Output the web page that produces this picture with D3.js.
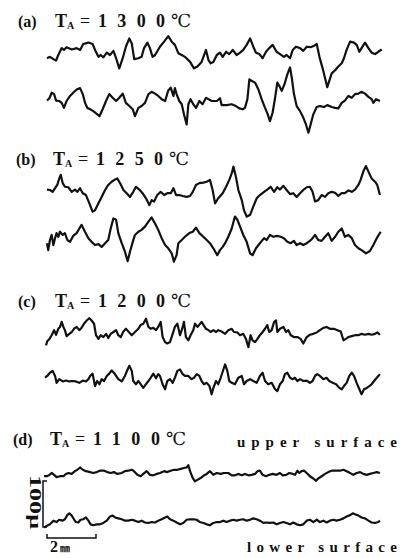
<!DOCTYPE html>
<html>
<head>
<meta charset="utf-8">
<script src="https://cdnjs.cloudflare.com/ajax/libs/d3/7.8.5/d3.min.js"></script>
<style>
  body { margin: 0; background: #fff; }
  svg { display: block; }
  .trace { fill: none; stroke: #111; stroke-width: 2.2; stroke-linejoin: round; }
  text { font-family: "Liberation Serif", "DejaVu Serif", serif; fill: #111; }
</style>
</head>
<body>
<div id="chart"></div>
<script>
// surface profiles
// each point is [distance along the sheet (mm), height (um)]
var a_upper = [[0.00,-7],[0.12,-4],[0.26,-9],[0.37,-12],[0.46,0],[0.60,15],[0.69,11],[0.80,17],[1.01,12],[1.21,15],
  [1.35,11],[1.48,24],[1.69,27],[1.86,24],[1.96,11],[2.10,-4],[2.19,0],[2.30,-5],[2.44,5],[2.57,0],[2.71,9],[2.82,-7],
  [2.95,-29],[3.09,-7],[3.22,18],[3.36,36],[3.46,25],[3.56,-9],[3.73,-7],[3.86,-4],[3.96,15],[4.10,27],[4.20,15],
  [4.31,-4],[4.41,0],[4.61,18],[4.78,29],[4.95,41],[5.09,29],[5.22,22],[5.36,4],[5.50,0],[5.63,-4],[5.84,-15],
  [6.00,-29],[6.14,-25],[6.31,-15],[6.49,11],[6.59,-11],[6.68,-18],[6.79,-15],[6.93,0],[7.06,5],[7.17,-4],[7.31,7],
  [7.44,2],[7.58,11],[7.74,0],[7.88,5],[8.01,11],[8.15,22],[8.29,36],[8.42,18],[8.53,5],[8.67,2],[8.80,-7],[8.94,7],
  [9.07,15],[9.21,22],[9.37,7],[9.51,2],[9.67,-4],[9.78,0],[9.92,-7],[10.03,11],[10.16,18],[10.33,15],[10.46,9],
  [10.60,18],[10.76,17],[10.90,20],[11.01,24],[11.12,-4],[11.25,-29],[11.44,-70],[11.62,-40],[11.76,-33],[11.89,-25],
  [12.03,-18],[12.12,-7],[12.23,11],[12.37,29],[12.53,27],[12.64,22],[12.75,7],[12.84,15],[12.98,27],[13.12,15],
  [13.25,5],[13.39,2],[13.52,7],[13.66,12]];

var a_lower = [[0.00,1],[0.10,6],[0.19,18],[0.29,15],[0.37,1],[0.50,0],[0.60,-4],[0.69,-15],[0.80,0],[0.94,11],
  [1.07,18],[1.21,25],[1.35,28],[1.46,15],[1.55,-4],[1.65,-15],[1.76,-18],[1.89,-22],[2.03,-28],[2.14,-33],[2.27,-18],
  [2.41,0],[2.54,15],[2.68,7],[2.82,0],[2.95,7],[3.09,16],[3.22,-4],[3.36,-11],[3.50,-18],[3.59,-33],[3.73,-15],
  [3.86,-11],[4.00,-4],[4.14,15],[4.27,20],[4.41,16],[4.54,11],[4.68,4],[4.82,0],[4.95,23],[5.05,29],[5.16,11],
  [5.22,28],[5.29,15],[5.40,0],[5.50,-7],[5.59,-29],[5.70,-51],[5.77,-7],[5.86,4],[5.97,-7],[6.08,-15],[6.22,0],
  [6.35,-7],[6.49,7],[6.59,4],[6.72,0],[6.93,0],[7.06,6],[7.13,-9],[7.33,-9],[7.54,-7],[7.71,-11],[7.85,-16],
  [7.99,-18],[8.08,-15],[8.18,4],[8.26,47],[8.35,44],[8.49,40],[8.63,25],[8.76,4],[8.90,-15],[9.01,-29],[9.10,-44],
  [9.21,-25],[9.31,7],[9.40,40],[9.48,33],[9.58,22],[9.69,36],[9.81,58],[9.92,73],[9.99,51],[10.08,15],[10.19,-11],
  [10.33,-22],[10.46,-36],[10.57,-51],[10.67,-69],[10.76,-51],[10.87,-29],[11.01,-13],[11.14,-11],[11.31,-13],
  [11.44,-9],[11.62,-13],[11.76,-15],[11.89,-16],[12.03,-4],[12.16,1],[12.30,11],[12.44,7],[12.57,15],[12.71,16],
  [12.84,20],[12.98,16],[13.12,9],[13.25,4],[13.32,-4],[13.43,4],[13.59,0]];

var b_upper = [[0.00,1],[0.12,0],[0.23,-4],[0.33,4],[0.42,11],[0.50,25],[0.56,33],[0.64,15],[0.73,7],[0.87,6],
  [1.01,-4],[1.14,1],[1.24,-4],[1.35,4],[1.46,-7],[1.59,-11],[1.73,-29],[1.86,-47],[1.96,-44],[2.10,-29],[2.23,-15],
  [2.37,0],[2.50,11],[2.64,18],[2.78,23],[2.87,25],[2.98,15],[3.12,0],[3.25,-7],[3.39,-15],[3.52,-4],[3.63,7],
  [3.77,1],[3.90,-7],[4.04,-18],[4.18,-33],[4.27,-22],[4.37,-25],[4.50,-11],[4.64,-4],[4.78,-11],[4.91,-7],[5.05,-7],
  [5.16,4],[5.27,-11],[5.40,-11],[5.54,-13],[5.70,-15],[5.84,-13],[5.95,-4],[6.08,11],[6.22,15],[6.38,16],[6.52,18],
  [6.65,22],[6.76,0],[6.86,-29],[6.99,-18],[7.17,-7],[7.31,7],[7.44,22],[7.54,36],[7.61,51],[7.71,29],[7.81,0],
  [7.95,-22],[8.04,-44],[8.15,-58],[8.29,-54],[8.42,-36],[8.56,-18],[8.69,-11],[8.86,-4],[8.99,1],[9.13,7],[9.27,-4],
  [9.40,6],[9.51,1],[9.65,9],[9.78,0],[9.92,-9],[10.05,-7],[10.19,-15],[10.33,-7],[10.46,0],[10.60,6],[10.73,7],
  [10.84,-4],[10.94,-25],[11.07,-22],[11.21,-11],[11.35,-15],[11.48,-7],[11.62,-4],[11.76,-6],[11.89,-13],[12.03,-7],
  [12.16,-7],[12.30,-1],[12.44,-4],[12.57,1],[12.71,11],[12.80,22],[12.91,40],[13.02,52],[13.12,40],[13.25,25],
  [13.39,18],[13.48,11],[13.59,-11]];

var b_lower = [[0.00,-7],[0.05,-22],[0.12,0],[0.19,11],[0.26,-11],[0.33,4],[0.39,15],[0.46,7],[0.53,18],[0.64,11],
  [0.73,15],[0.83,0],[0.94,-4],[1.07,9],[1.21,15],[1.32,25],[1.41,33],[1.55,18],[1.69,4],[1.82,-4],[1.96,-11],
  [2.10,-9],[2.23,-15],[2.37,-7],[2.50,0],[2.60,25],[2.71,47],[2.82,44],[2.91,15],[3.05,-7],[3.18,-25],[3.29,-46],
  [3.39,-25],[3.50,-4],[3.59,11],[3.73,18],[3.86,22],[4.00,29],[4.14,40],[4.27,49],[4.41,36],[4.54,22],[4.68,4],
  [4.82,-11],[4.95,-18],[5.09,-29],[5.18,-47],[5.29,-33],[5.36,-7],[5.50,0],[5.63,7],[5.81,15],[5.95,18],[6.08,27],
  [6.22,15],[6.38,7],[6.52,0],[6.65,-7],[6.79,-18],[6.95,-33],[7.06,-22],[7.17,-15],[7.27,-7],[7.40,7],[7.54,25],
  [7.67,51],[7.77,44],[7.88,29],[8.01,11],[8.15,-4],[8.29,-29],[8.39,-33],[8.53,-18],[8.69,-7],[8.86,4],[8.97,0],
  [9.10,11],[9.24,7],[9.40,9],[9.54,7],[9.67,4],[9.81,-4],[9.95,-7],[10.08,-2],[10.19,-11],[10.33,-7],[10.46,-11],
  [10.60,-7],[10.73,-2],[10.84,4],[10.94,11],[11.07,0],[11.21,-2],[11.35,7],[11.48,15],[11.62,-2],[11.76,7],
  [11.89,18],[12.03,25],[12.16,7],[12.30,11],[12.44,4],[12.57,-11],[12.71,-18],[12.84,-22],[13.02,-29],[13.18,-24],
  [13.32,-11],[13.46,4],[13.62,18]];

var c_upper = [[-0.04,-29],[0.01,-20],[0.10,-15],[0.19,-7],[0.29,4],[0.37,-6],[0.46,7],[0.53,11],[0.60,22],[0.67,11],
  [0.73,4],[0.80,-9],[0.91,-4],[1.01,0],[1.10,7],[1.21,11],[1.32,4],[1.41,9],[1.51,18],[1.62,25],[1.73,30],[1.82,25],
  [1.92,18],[2.00,-7],[2.10,-15],[2.19,-7],[2.30,-11],[2.41,-4],[2.50,-13],[2.60,-4],[2.71,0],[2.82,4],[2.91,-7],
  [3.01,-11],[3.12,1],[3.22,7],[3.36,-1],[3.46,-7],[3.59,0],[3.73,7],[3.82,15],[3.93,18],[4.04,29],[4.14,11],[4.23,7],
  [4.34,9],[4.45,4],[4.54,11],[4.64,22],[4.72,-11],[4.82,-22],[4.91,-25],[5.02,-22],[5.13,-4],[5.22,11],[5.32,18],
  [5.43,-7],[5.54,11],[5.59,22],[5.67,-11],[5.77,-18],[5.86,-7],[5.97,4],[6.04,18],[6.14,11],[6.22,16],[6.31,22],
  [6.38,16],[6.49,7],[6.59,4],[6.68,0],[6.79,4],[6.90,0],[6.99,4],[7.13,1],[7.27,-4],[7.40,4],[7.54,7],[7.63,0],
  [7.77,-1],[7.88,-7],[8.01,-4],[8.12,-15],[8.22,-33],[8.31,-7],[8.39,-18],[8.49,-22],[8.59,-15],[8.69,-7],[8.80,0],
  [8.90,7],[8.99,15],[9.07,0],[9.17,4],[9.27,22],[9.35,25],[9.40,0],[9.51,7],[9.65,11],[9.76,0],[9.85,4],[9.95,-7],
  [10.08,-11],[10.22,-11],[10.35,-15],[10.46,-25],[10.60,-11],[10.73,-6],[10.87,-4],[11.01,-1],[11.14,4],[11.28,9],
  [11.41,11],[11.55,7],[11.71,7],[11.85,4],[11.99,1],[12.10,-18],[12.20,-15],[12.30,-11],[12.44,-9],[12.57,-7],
  [12.71,-7],[12.84,-4],[12.98,-6],[13.12,-4],[13.25,-6],[13.39,-4],[13.48,-1],[13.59,-6]];

var c_lower = [[-0.08,7],[0.01,11],[0.12,18],[0.23,22],[0.33,11],[0.39,-4],[0.50,4],[0.64,-1],[0.78,1],[0.91,-1],
  [1.05,0],[1.18,-1],[1.32,-4],[1.46,1],[1.59,-1],[1.69,4],[1.76,11],[1.86,16],[1.96,-11],[2.05,0],[2.14,-7],[2.23,4],
  [2.33,0],[2.44,11],[2.54,16],[2.64,23],[2.73,18],[2.82,11],[2.91,4],[3.05,-1],[3.18,11],[3.29,25],[3.36,33],
  [3.46,22],[3.52,0],[3.63,-7],[3.73,0],[3.82,-7],[3.93,-15],[4.04,-7],[4.14,0],[4.23,7],[4.34,16],[4.45,6],[4.54,15],
  [4.61,11],[4.72,-7],[4.82,-18],[4.91,0],[5.02,4],[5.13,-4],[5.22,7],[5.32,22],[5.43,25],[5.54,15],[5.63,11],
  [5.77,11],[5.90,4],[6.00,7],[6.11,15],[6.22,11],[6.31,0],[6.41,-7],[6.52,-4],[6.63,-11],[6.72,-29],[6.79,-15],
  [6.90,0],[6.99,-7],[7.09,7],[7.20,25],[7.27,36],[7.36,22],[7.44,0],[7.54,-4],[7.67,-7],[7.81,7],[7.95,11],[8.04,-7],
  [8.15,0],[8.29,4],[8.42,0],[8.56,-4],[8.69,11],[8.80,18],[8.90,0],[9.03,-7],[9.17,-4],[9.31,-18],[9.40,-22],
  [9.51,-7],[9.62,0],[9.71,15],[9.81,18],[9.92,7],[10.03,4],[10.12,7],[10.22,0],[10.33,4],[10.46,0],[10.60,1],
  [10.73,-4],[10.84,0],[10.94,11],[11.03,15],[11.14,11],[11.28,4],[11.41,7],[11.52,0],[11.66,-4],[11.80,-7],
  [11.93,-15],[12.03,-18],[12.12,-11],[12.23,-4],[12.34,11],[12.44,18],[12.53,11],[12.64,-4],[12.75,-18],[12.84,-29],
  [12.94,-18],[13.05,-15],[13.16,-11],[13.25,-7],[13.35,0],[13.46,7],[13.59,15]];

var d_upper = [[-0.12,-7],[0.00,-7],[0.10,-4],[0.19,0],[0.29,-4],[0.39,-9],[0.53,-7],[0.67,-7],[0.78,-2],[0.87,0],
  [1.01,-2],[1.14,4],[1.24,7],[1.35,12],[1.46,7],[1.59,4],[1.76,2],[1.89,0],[2.03,2],[2.16,5],[2.33,5],[2.46,2],
  [2.60,0],[2.73,2],[2.87,-2],[3.05,0],[3.18,4],[3.32,5],[3.46,7],[3.55,4],[3.69,-4],[3.82,-7],[3.93,-2],[4.07,4],
  [4.20,-4],[4.34,-5],[4.48,-2],[4.61,0],[4.78,4],[4.91,2],[5.05,5],[5.18,7],[5.32,7],[5.46,9],[5.59,11],[5.70,12],
  [5.77,17],[5.84,4],[5.95,-11],[6.04,-18],[6.14,-15],[6.27,-11],[6.41,-5],[6.52,-2],[6.65,4],[6.79,-4],[6.93,0],
  [7.09,-2],[7.22,0],[7.40,0],[7.54,-5],[7.67,-5],[7.81,-2],[7.95,-5],[8.08,-2],[8.22,-5],[8.35,-4],[8.49,-2],
  [8.59,4],[8.69,5],[8.80,-4],[8.94,-7],[9.07,-4],[9.21,-2],[9.37,-4],[9.51,0],[9.62,-5],[9.76,-4],[9.89,0],
  [10.03,-2],[10.12,-4],[10.22,5],[10.30,0],[10.39,4],[10.49,5],[10.60,0],[10.73,-7],[10.87,-12],[10.98,-17],
  [11.07,-12],[11.21,-7],[11.35,-2],[11.48,2],[11.62,5],[11.80,5],[11.96,5],[12.10,7],[12.23,4],[12.37,0],[12.50,-4],
  [12.64,0],[12.78,2],[12.91,-2],[13.05,-4],[13.18,-2],[13.32,0],[13.46,2],[13.59,0]];

var d_lower = [[-0.12,-11],[0.00,-7],[0.12,-4],[0.26,4],[0.39,1],[0.50,6],[0.64,4],[0.73,7],[0.83,16],[0.91,20],
  [1.01,15],[1.10,7],[1.18,1],[1.28,0],[1.37,6],[1.48,7],[1.59,11],[1.69,4],[1.78,-4],[1.89,-6],[2.03,-4],[2.16,-4],
  [2.30,-1],[2.44,4],[2.57,13],[2.68,15],[2.78,11],[2.91,9],[3.05,7],[3.18,4],[3.32,4],[3.46,6],[3.59,4],[3.73,1],
  [3.86,4],[4.00,0],[4.14,-1],[4.27,1],[4.41,0],[4.54,4],[4.68,7],[4.82,11],[4.91,13],[5.02,7],[5.16,4],[5.29,0],
  [5.43,-4],[5.56,-1],[5.70,6],[5.84,7],[5.97,7],[6.11,6],[6.24,1],[6.38,-1],[6.52,-4],[6.65,-6],[6.79,-1],[6.93,1],
  [7.06,1],[7.20,4],[7.33,1],[7.47,4],[7.61,6],[7.74,4],[7.88,6],[8.01,7],[8.15,4],[8.29,6],[8.42,9],[8.56,7],
  [8.69,4],[8.83,-1],[8.97,0],[9.10,-1],[9.24,0],[9.37,-4],[9.51,-1],[9.65,1],[9.78,-1],[9.92,-4],[10.05,0],
  [10.19,-4],[10.33,-6],[10.46,-4],[10.60,4],[10.73,6],[10.87,1],[11.01,6],[11.14,1],[11.28,4],[11.41,0],[11.55,4],
  [11.69,6],[11.82,4],[11.96,6],[12.10,9],[12.23,13],[12.37,16],[12.48,20],[12.57,18],[12.71,15],[12.84,11],
  [12.98,9],[13.12,4],[13.25,0],[13.39,-1],[13.52,1],[13.59,4]];

var panelLabels = ['(a)', '(b)', '(c)', '(d)'];
var temperatures = ['1300', '1250', '1200', '1100'];
var surfaceLabels = ['upper surface', 'lower surface'];
var scaleHeight = 100;  // um
var scaleLength = 2;    // mm

// layout of each panel: title baseline, title left and the two trace baselines
var layout = [
  { titleY: 27, titleX: 55, upperY: 55, lowerY: 101 },
  { titleY: 165, titleX: 53, upperY: 190, lowerY: 240 },
  { titleY: 307, titleX: 55, upperY: 332, lowerY: 381 },
  { titleY: 445, titleX: 50, upperY: 473, lowerY: 522.5 }
];
var profiles = [[a_upper, a_lower], [b_upper, b_lower], [c_upper, c_lower], [d_upper, d_lower]];

var width = 406, height = 558;
var pxPerMm = 24.5, pxPerUm = 0.46;

var svg = d3.select('#chart').append('svg')
  .attr('width', width)
  .attr('height', height);

var x = d3.scaleLinear().domain([0, 13.7]).range([47, 47 + 13.7 * pxPerMm]);

var heightScale = function(base) {
  return d3.scaleLinear().domain([0, 100]).range([base, base - 100 * pxPerUm]);
};

layout.forEach(function(p, i) {
  var g = svg.append('g').attr('class', 'panel');

  // title, e.g. (a)  T_A = 1 3 0 0 ℃
  g.append('text')
    .attr('x', p.titleX - 37).attr('y', p.titleY)
    .style('font-size', '16px').style('font-weight', 'bold')
    .text(panelLabels[i]);
  g.append('text')
    .attr('x', p.titleX).attr('y', p.titleY)
    .style('font-size', '18px').style('font-weight', 'bold')
    .text('T');
  g.append('text')
    .attr('x', p.titleX + 12).attr('y', p.titleY + 2)
    .style('font-size', '10px').style('font-weight', 'bold')
    .text('A');
  g.append('text')
    .attr('x', p.titleX + 25).attr('y', p.titleY)
    .style('font-size', '18px')
    .text('=');
  g.append('text')
    .attr('x', p.titleX + 43).attr('y', p.titleY)
    .attr('textLength', 67).attr('lengthAdjust', 'spacing')
    .style('font-size', '18px').style('font-weight', 'bold')
    .text(temperatures[i]);
  g.append('text')
    .attr('x', p.titleX + 116).attr('y', p.titleY)
    .style('font-size', '18px')
    .text('℃');

  // the two surface traces
  [p.upperY, p.lowerY].forEach(function(base, j) {
    var y = heightScale(base);
    var line = d3.line()
      .x(function(d) { return x(d[0]); })
      .y(function(d) { return y(d[1]); });
    g.append('path')
      .attr('class', 'trace')
      .attr('d', line(profiles[i][j]));
  });
});

// surface names next to the last panel
svg.append('text')
  .attr('x', 237).attr('y', 447)
  .attr('textLength', 160).attr('lengthAdjust', 'spacing')
  .style('font-size', '15px').style('font-weight', 'bold')
  .text(surfaceLabels[0]);
svg.append('text')
  .attr('x', 247).attr('y', 552)
  .attr('textLength', 150).attr('lengthAdjust', 'spacing')
  .style('font-size', '15px').style('font-weight', 'bold')
  .text(surfaceLabels[1]);

// vertical scale bar, 100 um
var bar = d3.scaleLinear().domain([0, scaleHeight]).range([527, 527 - scaleHeight * pxPerUm]);
svg.append('path')
  .attr('d', 'M47,' + bar(scaleHeight) + 'H43V' + bar(0) + 'H47')
  .attr('fill', 'none').attr('stroke', '#111').attr('stroke-width', 1.5);
svg.append('text')
  .attr('transform', 'translate(30,' + (bar(scaleHeight) - 6) + ') rotate(90)')
  .attr('textLength', 54).attr('lengthAdjust', 'spacingAndGlyphs')
  .style('font-size', '17px').style('font-weight', 'bold')
  .text('100μ');

// horizontal scale bar, 2 mm
svg.append('path')
  .attr('d', 'M' + x(0) + ',534V538H' + x(scaleLength) + 'V534')
  .attr('fill', 'none').attr('stroke', '#111').attr('stroke-width', 1.5);
var mm = svg.append('text')
  .attr('x', x(0) + 3).attr('y', 552)
  .style('font-size', '16px').style('font-weight', 'bold');
mm.append('tspan').text(scaleLength);
mm.append('tspan')
  .attr('dx', 2)
  .style('font-size', '10px')
  .style('font-family', '"Noto Sans CJK JP", sans-serif')
  .text('㎜');
</script>
</body>
</html>
